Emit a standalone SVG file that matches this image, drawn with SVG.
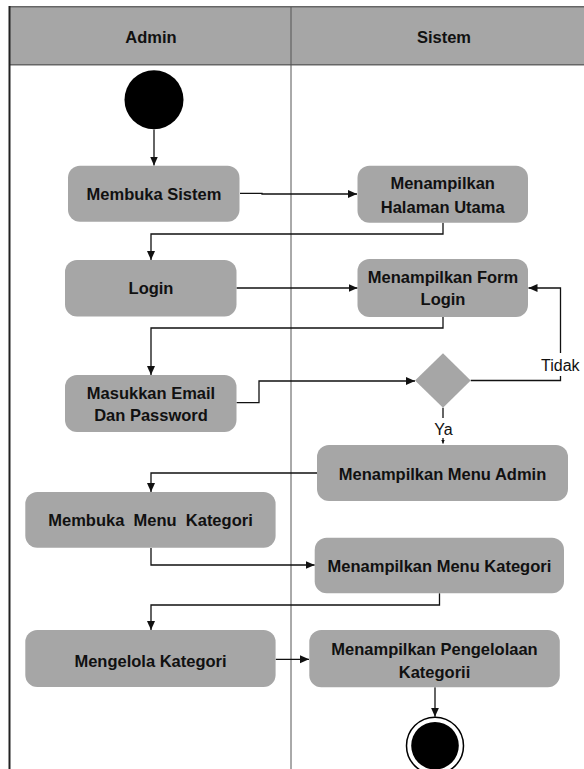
<svg xmlns="http://www.w3.org/2000/svg" width="584" height="769" viewBox="0 0 584 769">
<defs>
<style>
.box{fill:#a6a6a6;}
.t{font-family:"Liberation Sans",Arial,sans-serif;font-size:16.5px;font-weight:bold;fill:#111;text-anchor:middle;}
.lbl{font-family:"Liberation Sans",Arial,sans-serif;font-size:16px;fill:#111;}
.c{fill:none;stroke:#111;stroke-width:1.3;}
</style>
<marker id="ah" markerUnits="userSpaceOnUse" markerWidth="10" markerHeight="10" refX="9" refY="4" orient="auto">
<path d="M0,0 L9,4 L0,8 Z" fill="#111"/>
</marker>
<marker id="ahs" markerUnits="userSpaceOnUse" markerWidth="5" markerHeight="5" refX="4" refY="2" orient="auto">
<path d="M0,0 L4,2 L0,4 Z" fill="#111"/>
</marker>
</defs>
<rect width="584" height="769" fill="#fff"/>
<g id="swimlanes">
<rect x="9" y="7" width="580" height="58" fill="#a6a6a6"/>
<line x1="9" y1="6.8" x2="584" y2="6.8" stroke="#666" stroke-width="1.6"/>
<line x1="9" y1="64.8" x2="584" y2="64.8" stroke="#666" stroke-width="1.6"/>
<line x1="9.5" y1="6" x2="9.5" y2="769" stroke="#222" stroke-width="2"/>
<line x1="291" y1="7" x2="291" y2="769" stroke="#555" stroke-width="1"/>
<text class="t" x="151" y="43">Admin</text>
<text class="t" x="444" y="43">Sistem</text>
</g>
<g id="connectors">
<path class="c" d="M154,129.5 V165.5" marker-end="url(#ah)"/>
<path class="c" d="M240,193.3 H262 V194 H357" marker-end="url(#ah)"/>
<path class="c" d="M443,222.7 V234 H151 V260" marker-end="url(#ah)"/>
<path class="c" d="M236.5,288 H357.5" marker-end="url(#ah)"/>
<path class="c" d="M443,317 V328 H151 V375" marker-end="url(#ah)"/>
<path class="c" d="M236.5,402.7 H259 V381 H415" marker-end="url(#ah)"/>
<path class="c" d="M470.7,380.5 H560.5 V288 H528.5" marker-end="url(#ah)"/>
<path class="c" d="M443,407.7 V443.5" marker-end="url(#ahs)"/>
<path class="c" d="M317,473 H151 V492" marker-end="url(#ah)"/>
<path class="c" d="M151,548 V565 H314.7" marker-end="url(#ah)"/>
<path class="c" d="M439.5,593.3 V605 H151 V630" marker-end="url(#ah)"/>
<path class="c" d="M275.7,659.3 H309" marker-end="url(#ah)"/>
<path class="c" d="M435,687.3 V716.7" marker-end="url(#ah)"/>
<rect x="538" y="353" width="46" height="23" fill="#fff"/>
<text class="lbl" x="541" y="371">Tidak</text>
<rect x="433" y="418" width="21" height="20" fill="#fff"/>
<text class="lbl" x="443.5" y="434.5" text-anchor="middle">Ya</text>
</g>
<g id="start">
<circle cx="154" cy="99.7" r="29.5" fill="#000"/>
</g>
<g id="membuka-sistem">
<rect class="box" x="68" y="165.7" width="171.5" height="56" rx="12"/>
<text class="t" x="154" y="200">Membuka Sistem</text>
</g>
<g id="halaman-utama">
<rect class="box" x="357.5" y="165.7" width="170.5" height="57" rx="12"/>
<text class="t" x="442.7" y="189">Menampilkan</text>
<text class="t" x="442.7" y="212.7">Halaman Utama</text>
</g>
<g id="login">
<rect class="box" x="65" y="260" width="171.5" height="56.5" rx="12"/>
<text class="t" x="151" y="294">Login</text>
</g>
<g id="form-login">
<rect class="box" x="357.5" y="259" width="170.5" height="58" rx="12"/>
<text class="t" x="443" y="283">Menampilkan Form</text>
<text class="t" x="443" y="305">Login</text>
</g>
<g id="masukkan-email">
<rect class="box" x="65" y="375" width="171.5" height="57" rx="12"/>
<text class="t" x="151" y="399">Masukkan Email</text>
<text class="t" x="151" y="421">Dan Password</text>
</g>
<g id="decision">
<polygon points="443,353.3 470.7,380.5 443,407.7 415,380.5" fill="#a6a6a6"/>
</g>
<g id="menu-admin">
<rect class="box" x="317" y="445" width="251" height="56" rx="12"/>
<text class="t" x="442.5" y="480">Menampilkan Menu Admin</text>
</g>
<g id="membuka-menu-kategori">
<rect class="box" x="25.3" y="492" width="250.3" height="55.7" rx="12"/>
<text class="t" x="150.5" y="526" style="white-space:pre" xml:space="preserve">Membuka  Menu  Kategori</text>
</g>
<g id="menu-kategori">
<rect class="box" x="314.7" y="537.7" width="249.3" height="55.6" rx="12"/>
<text class="t" x="439.4" y="571.7">Menampilkan Menu Kategori</text>
</g>
<g id="mengelola-kategori">
<rect class="box" x="25.3" y="630" width="250.3" height="57" rx="12"/>
<text class="t" x="150.5" y="667">Mengelola Kategori</text>
</g>
<g id="pengelolaan-kategori">
<rect class="box" x="309.3" y="630" width="250.5" height="57.3" rx="12"/>
<text class="t" x="434.5" y="655">Menampilkan Pengelolaan</text>
<text class="t" x="434.5" y="678">Kategorii</text>
</g>
<g id="end">
<circle cx="435" cy="745.7" r="28.5" fill="#fff" stroke="#000" stroke-width="1.5"/>
<circle cx="435" cy="745.7" r="23.8" fill="#000"/>
</g>
</svg>
